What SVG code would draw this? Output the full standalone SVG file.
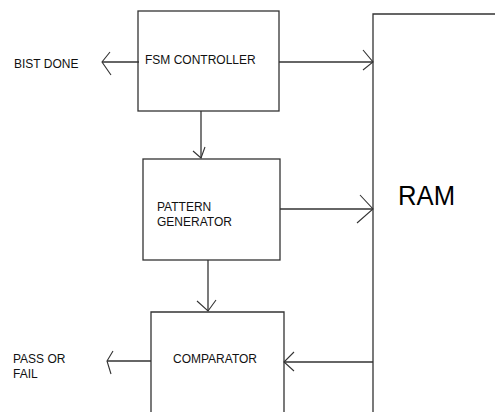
<svg xmlns="http://www.w3.org/2000/svg" width="495" height="412" viewBox="0 0 495 412">
<style>
.box{fill:#fff;stroke:#333;stroke-width:1.3}
.ln{fill:none;stroke:#333;stroke-width:1.3}
.ah{fill:none;stroke:#333;stroke-width:1.1}
.t{font-family:"Liberation Sans",Arial,sans-serif;font-size:12px;fill:#111}
.big{font-family:"Liberation Sans",sans-serif;font-size:28px;fill:#000}
</style>
<rect width="495" height="412" fill="#fff"/>
<g id="ram">
<path class="box" d="M373,412 V14 H495"/>
<text class="big" x="398" y="205" textLength="57" lengthAdjust="spacingAndGlyphs">RAM</text>
</g>
<g id="fsm">
<rect class="box" x="138" y="11" width="141" height="100"/>
<text class="t" x="145" y="64">FSM CONTROLLER</text>
</g>
<g id="pattern">
<rect class="box" x="143" y="159" width="137" height="101"/>
<text class="t" x="157" y="211">PATTERN</text>
<text class="t" x="157" y="226">GENERATOR</text>
</g>
<g id="comparator">
<path class="box" d="M151,412 V312 H284 V412"/>
<text class="t" x="173" y="363">COMPARATOR</text>
</g>
<g id="bist">
<text class="t" x="14" y="68">BIST DONE</text>
</g>
<g id="passfail">
<text class="t" x="13" y="363">PASS OR</text>
<text class="t" x="13" y="378">FAIL</text>
</g>
<g id="connectors">
<path class="ln" d="M139,62 H102"/>
<path class="ah" d="M110,52 L102,62 L111,75"/>
<path class="ln" d="M279,62 H373"/>
<path class="ah" d="M363,50 L373,62 L363,70"/>
<path class="ln" d="M201,111 V158"/>
<path class="ah" d="M193,151 L201,158 L205,147"/>
<path class="ln" d="M280,209 H373"/>
<path class="ah" d="M360,195 L373,209 L357,223"/>
<path class="ln" d="M208,260 V311"/>
<path class="ah" d="M197,301 L208,311 L216,300"/>
<path class="ln" d="M151,361 H107"/>
<path class="ah" d="M113,351 L107,361 L111,374"/>
<path class="ln" d="M373,362 H284"/>
<path class="ah" d="M294,352 L284,362 L294,371"/>
</g>
</svg>
